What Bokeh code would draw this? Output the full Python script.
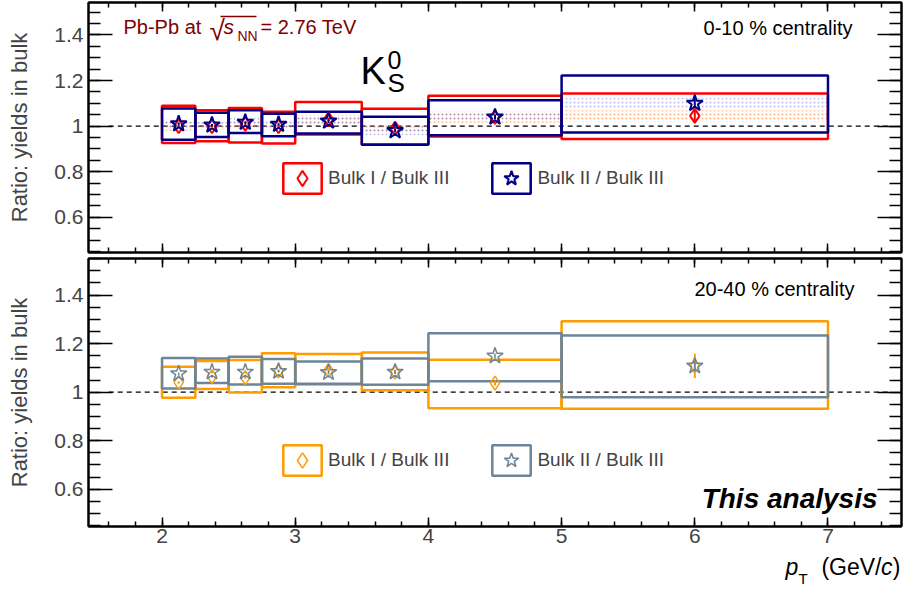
import numpy as np
from bokeh.plotting import figure
from bokeh.models import Range1d, LinearAxis, FixedTicker, Label, Legend, LegendItem
from bokeh.layouts import column
from bokeh.embed import file_html
from bokeh.resources import INLINE

# ---------------- data ----------------
bin_lo = [2.0, 2.25, 2.5, 2.75, 3.0, 3.5, 4.0, 5.0]
bin_hi = [2.25, 2.5, 2.75, 3.0, 3.5, 4.0, 5.0, 7.0]
pt = [2.125, 2.375, 2.625, 2.875, 3.25, 3.75, 4.5, 6.0]

# 0-10 % centrality
r1_val = [1.00, 1.00, 1.01, 1.00, 1.03, 0.99, 1.04, 1.045]      # Bulk I / Bulk III
r1_sys_hi = [1.09, 1.07, 1.08, 1.063, 1.106, 1.077, 1.133, 1.143]
r1_sys_lo = [0.926, 0.934, 0.928, 0.924, 0.963, 0.92, 0.955, 0.944]
r1_band = [0.02, 0.015, 0.02, 0.015, 0.02, 0.02, 0.025, 0.025]
r1_stat = [0.005, 0.005, 0.005, 0.005, 0.008, 0.008, 0.01, 0.03]
r2_val = [1.01, 1.005, 1.017, 1.008, 1.022, 0.98, 1.04, 1.10]     # Bulk II / Bulk III
r2_sys_hi = [1.078, 1.059, 1.07, 1.055, 1.063, 1.041, 1.114, 1.222]
r2_sys_lo = [0.941, 0.953, 0.97, 0.956, 0.968, 0.919, 0.96, 0.972]
r2_band = [0.02, 0.015, 0.02, 0.015, 0.02, 0.02, 0.02, 0.025]
r2_stat = [0.005, 0.005, 0.005, 0.005, 0.008, 0.008, 0.01, 0.02]

# 20-40 % centrality
o_val = [1.04, 1.064, 1.06, 1.088, 1.09, 1.083, 1.037, 1.108]
o_sys_hi = [1.105, 1.128, 1.132, 1.16, 1.157, 1.163, 1.134, 1.292]
o_sys_lo = [0.977, 1.013, 0.999, 1.02, 1.031, 1.008, 0.934, 0.932]
o_stat = [0.005, 0.005, 0.005, 0.005, 0.008, 0.008, 0.01, 0.05]
g_val = [1.076, 1.083, 1.083, 1.086, 1.081, 1.083, 1.149, 1.108]
g_sys_hi = [1.141, 1.139, 1.146, 1.137, 1.126, 1.139, 1.243, 1.234]
g_sys_lo = [1.015, 1.038, 1.031, 1.035, 1.035, 1.03, 1.045, 0.979]
g_stat = [0.005, 0.005, 0.005, 0.005, 0.008, 0.008, 0.01, 0.02]

y_major = [0.6, 0.8, 1, 1.2, 1.4]
y_labels = {0.6: "0.6", 0.8: "0.8", 1: "1", 1.2: "1.2", 1.4: "1.4"}
x_major = [2, 3, 4, 5, 6, 7]
ref_x = [1.6, 7.45]
ref_y = [1.0, 1.0]

legend_labels = ["Bulk I / Bulk III", "Bulk II / Bulk III"]

# ---------------- style ----------------
FONT = "Liberation Sans"
RED = "#FF0000"
NAVY = "#000085"
ORANGE = "#FF9C00"
GREY = "#6E8497"
DARKRED = "#800000"

XR = (1.448, 7.552)
FRAME_LEFT = 88     # page px
FRAME_W = 813
FIG_W = 905


def px_x(px):
    return XR[0] + (px - FRAME_LEFT) / FRAME_W * (XR[1] - XR[0])


def make_conv(yr, ftop, fh):
    def py_y(py):
        return yr[1] - (py - ftop) / fh * (yr[1] - yr[0])
    return py_y


def hide_labels(ax):
    ax.major_label_text_color = None
    ax.major_label_text_alpha = 0
    ax.major_label_text_font_size = "1px"
    ax.major_label_standoff = 0


def add_axes(p, show_x_labels):
    yt = FixedTicker(ticks=y_major, minor_ticks=[round(0.45 + 0.05 * i, 2) for i in range(23)])
    xt = FixedTicker(ticks=x_major, minor_ticks=[round(1.6 + 0.2 * i, 1) for i in range(30)])
    for loc in ["left", "right"]:
        ax = LinearAxis(ticker=yt)
        ax.major_tick_in = 24
        ax.major_tick_out = 0
        ax.minor_tick_in = 12
        ax.minor_tick_out = 0
        ax.axis_line_width = 2
        ax.major_tick_line_width = 1.5
        ax.minor_tick_line_width = 1.5
        if loc == "left":
            ax.major_label_overrides = y_labels
            ax.major_label_text_font = FONT
            ax.major_label_text_font_size = "21px"
            ax.major_label_standoff = 5
            ax.axis_label = "Ratio: yields in bulk"
            ax.axis_label_text_font = FONT
            ax.axis_label_text_font_size = "22px"
            ax.axis_label_text_font_style = "normal"
            ax.axis_label_standoff = 19
        else:
            hide_labels(ax)
        p.add_layout(ax, loc)
    for loc in ["below", "above"]:
        ax = LinearAxis(ticker=xt)
        ax.major_tick_in = 9
        ax.major_tick_out = 0
        ax.minor_tick_in = 5
        ax.minor_tick_out = 0
        ax.axis_line_width = 2
        ax.major_tick_line_width = 1.5
        ax.minor_tick_line_width = 1.5
        if loc == "below" and show_x_labels:
            ax.major_label_text_font = FONT
            ax.major_label_text_font_size = "21px"
            ax.major_label_standoff = 2
        else:
            hide_labels(ax)
        p.add_layout(ax, loc)


def base_fig(height, yr, top, bottom):
    p = figure(width=FIG_W, height=height, x_range=Range1d(*XR), y_range=Range1d(*yr),
               output_backend="svg", toolbar_location=None,
               min_border_left=FRAME_LEFT, min_border_right=FIG_W - FRAME_LEFT - FRAME_W,
               min_border_top=top, min_border_bottom=bottom,
               x_axis_location=None, y_axis_location=None)
    p.xgrid.visible = False
    p.ygrid.visible = False
    p.outline_line_color = "black"
    p.outline_line_width = 2
    p.background_fill_color = "white"
    p.border_fill_color = "white"
    return p


def lab(p, conv, px, base_py, text, size_px, color="black", align="left", style="normal"):
    # anchor at text-box middle; place so that the alphabetic baseline lands on base_py
    mid_py = base_py - 0.3465 * size_px
    p.add_layout(Label(x=px_x(px), y=conv(mid_py), text=text, text_font=FONT,
                       text_font_size=f"{size_px}px", text_color=color, text_align=align,
                       text_font_style=style, text_baseline="middle"))


# ---------------- top panel (page y 0..255) ----------------
YR1 = (0.446, 1.5425)
p1 = base_fig(255, YR1, 2, 3)
ty = make_conv(YR1, 2, 250)
add_axes(p1, False)

p1.line(ref_x, ref_y, line_color="black", line_dash="5 4", line_width=1.2)

b1_lo = [v - e for v, e in zip(r1_val, r1_band)]
b1_hi = [v + e for v, e in zip(r1_val, r1_band)]
b2_lo = [v - e for v, e in zip(r2_val, r2_band)]
b2_hi = [v + e for v, e in zip(r2_val, r2_band)]
p1.quad(left=bin_lo, right=bin_hi, bottom=b1_lo, top=b1_hi, fill_alpha=0, line_alpha=0,
        hatch_pattern="dot", hatch_color="#FF8C40", hatch_alpha=0.65, hatch_scale=4, hatch_weight=1)
p1.quad(left=bin_lo, right=bin_hi, bottom=b2_lo, top=b2_hi, fill_alpha=0, line_alpha=0,
        hatch_pattern="dot", hatch_color="#6A6AE0", hatch_alpha=0.45, hatch_scale=4, hatch_weight=1)

box1 = p1.quad(left=bin_lo, right=bin_hi, bottom=r1_sys_lo, top=r1_sys_hi,
               fill_color=None, line_color=RED, line_width=2.5)
box2 = p1.quad(left=bin_lo, right=bin_hi, bottom=r2_sys_lo, top=r2_sys_hi,
               fill_color=None, line_color=NAVY, line_width=2.5)
p1.segment(x0=pt, x1=pt, y0=[v - e for v, e in zip(r1_val, r1_stat)],
           y1=[v + e for v, e in zip(r1_val, r1_stat)], line_color=RED, line_width=2)
p1.segment(x0=pt, x1=pt, y0=[v - e for v, e in zip(r2_val, r2_stat)],
           y1=[v + e for v, e in zip(r2_val, r2_stat)], line_color=NAVY, line_width=2)
m1 = p1.scatter(pt, r1_val, marker="diamond", size=14, fill_color="white", fill_alpha=0,
                line_color=RED, line_width=2)
m2 = p1.scatter(pt, r2_val, marker="star", size=17, fill_color="white", fill_alpha=0,
                line_color=NAVY, line_width=2)

leg1 = Legend(items=[LegendItem(label=legend_labels[0], renderers=[box1, m1]),
                     LegendItem(label=legend_labels[1], renderers=[box2, m2])],
              orientation="horizontal", location=(190, 55), glyph_width=48, glyph_height=38,
              label_standoff=2, spacing=38, padding=0, margin=0, border_line_color=None,
              background_fill_alpha=0, label_text_font=FONT, label_text_font_size="19px")
p1.add_layout(leg1)

# texts top panel
lab(p1, ty, 123, 33.5, "Pb-Pb at", 20, DARKRED)
lab(p1, ty, 209, 40, "\u221A", 28, DARKRED)
lab(p1, ty, 223, 33.5, "s", 21, DARKRED, style="italic")
lab(p1, ty, 237, 40, "NN", 14, DARKRED)
lab(p1, ty, 260, 33.5, "= 2.76 TeV", 20, DARKRED)
p1.segment(x0=[px_x(220)], x1=[px_x(256)], y0=[ty(16)], y1=[ty(16)], line_color=DARKRED, line_width=1.3)

lab(p1, ty, 360, 84, "K", 38)
lab(p1, ty, 387, 68, "0", 25)
lab(p1, ty, 387, 92, "S", 26)
lab(p1, ty, 852, 34.5, "0-10 % centrality", 20, align="right")

# ---------------- bottom panel (page y 255..552) ----------------
YR2 = (0.446, 1.551)
p2 = base_fig(297, YR2, 3, 26)
by = make_conv(YR2, 258, 268)
add_axes(p2, True)

p2.line(ref_x, ref_y, line_color="black", line_dash="5 4", line_width=1.2)
box3 = p2.quad(left=bin_lo, right=bin_hi, bottom=o_sys_lo, top=o_sys_hi,
               fill_color=None, line_color=ORANGE, line_width=2.5)
box4 = p2.quad(left=bin_lo, right=bin_hi, bottom=g_sys_lo, top=g_sys_hi,
               fill_color=None, line_color=GREY, line_width=2.5)
p2.segment(x0=pt, x1=pt, y0=[v - e for v, e in zip(o_val, o_stat)],
           y1=[v + e for v, e in zip(o_val, o_stat)], line_color=ORANGE, line_width=2)
p2.segment(x0=pt, x1=pt, y0=[v - e for v, e in zip(g_val, g_stat)],
           y1=[v + e for v, e in zip(g_val, g_stat)], line_color=GREY, line_width=1.5)
m3 = p2.scatter(pt, o_val, marker="diamond", size=14, fill_color="white", fill_alpha=0,
                line_color=ORANGE, line_width=1.5)
m4 = p2.scatter(pt, g_val, marker="star", size=17, fill_color="white", fill_alpha=0,
                line_color=GREY, line_width=1.5)

leg2 = Legend(items=[LegendItem(label=legend_labels[0], renderers=[box3, m3]),
                     LegendItem(label=legend_labels[1], renderers=[box4, m4])],
              orientation="horizontal", location=(190, 47), glyph_width=48, glyph_height=38,
              label_standoff=2, spacing=38, padding=0, margin=0, border_line_color=None,
              background_fill_alpha=0, label_text_font=FONT, label_text_font_size="19px")
p2.add_layout(leg2)

lab(p2, by, 854, 295, "20-40 % centrality", 20, align="right")
lab(p2, by, 877, 508, "This analysis", 28, style="bold italic", align="right")

# ---------------- x-axis title strip (page y 552..589) ----------------
T_TOP, T_H = 552, 37
p3 = figure(width=FIG_W, height=T_H, x_range=Range1d(*XR), y_range=Range1d(0, T_H),
            output_backend="svg", toolbar_location=None,
            min_border_left=FRAME_LEFT, min_border_right=FIG_W - FRAME_LEFT - FRAME_W,
            min_border_top=0, min_border_bottom=0,
            x_axis_location=None, y_axis_location=None)
p3.xgrid.visible = False
p3.ygrid.visible = False
p3.outline_line_color = None
p3.background_fill_color = "white"
p3.border_fill_color = "white"
sy = make_conv((0, T_H), T_TOP, T_H)

lab(p3, sy, 785, 574, "p", 23, style="italic")
lab(p3, sy, 798, 583, "T", 15)
lab(p3, sy, 900, 574, ")", 23, align="right")
lab(p3, sy, 892, 574, "c", 23, style="italic", align="right")
lab(p3, sy, 881, 574, "(GeV/", 23, align="right")

layout = column(p1, p2, p3, spacing=0)
open("out.html", "w").write(file_html(layout, INLINE))
